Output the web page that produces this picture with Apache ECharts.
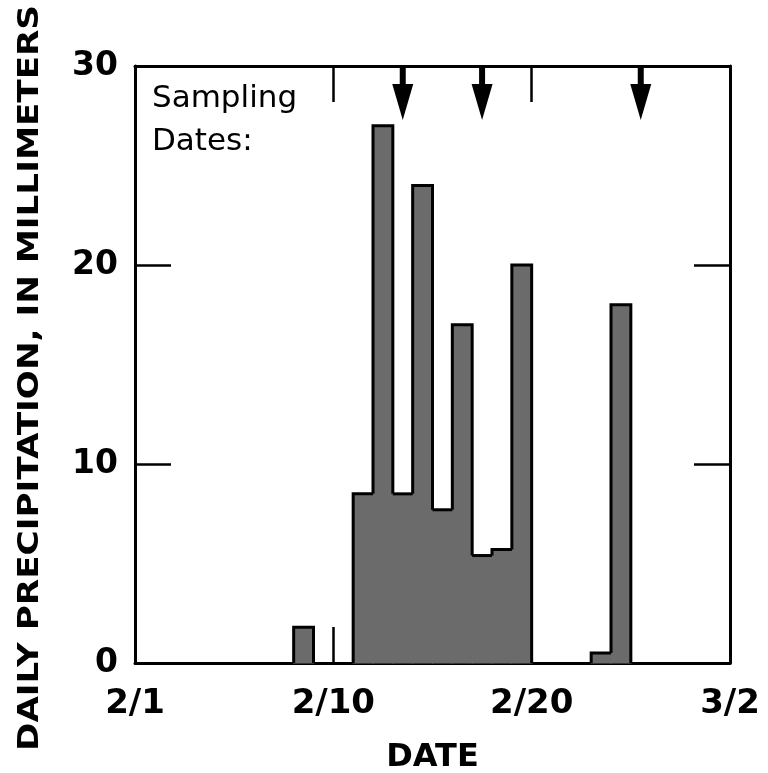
<!DOCTYPE html>
<html>
<head>
<meta charset="utf-8">
<script src="https://cdn.jsdelivr.net/npm/echarts@6/dist/echarts.min.js"></script>
<style>html,body{margin:0;padding:0;background:#fff}#c{width:768px;height:773px}</style>
</head>
<body>
<div id="c"></div>
<script>
// Day offsets (from 2/1) at which each daily bar starts
const barDays = [8, 11, 12, 13, 14, 15, 16, 17, 18, 19, 23, 24];
// Daily precipitation, in millimeters
const precip = [1.8, 8.5, 27, 8.5, 24, 7.7, 17, 5.4, 5.7, 20, 0.5, 18];
// Sampling dates (day offsets from 2/1), shown as arrows
const samplingDays = [13.5, 17.5, 25.5];
// X tick labels at day offsets 0, 10, 20, 30
const xTickLabels = ['2/1', '2/10', '2/20', '3/2'];
const yTicks = [0, 10, 20, 30];

const FONT = '"DejaVu Sans", "Liberation Sans", Arial, sans-serif';
const chart = echarts.init(document.getElementById('c'), null, {renderer: 'canvas'});

function valAt(d) {
  const i = barDays.indexOf(d);
  return i >= 0 ? precip[i] : 0;
}

const axisCommon = {
  type: 'value', min: 0, max: 30, interval: 10,
  axisLine: {show: true, onZero: false, lineStyle: {color: '#000', width: 3}},
  axisTick: {show: true, inside: true, length: 36, lineStyle: {color: '#000', width: 2.5}},
  splitLine: {show: false}
};

chart.setOption({
  animation: false,
  backgroundColor: '#fff',
  grid: {left: 135, right: 38, top: 66, bottom: 110, containLabel: false, outerBoundsMode: 'none'},
  xAxis: [
    Object.assign({}, axisCommon, {
      position: 'bottom',
      axisLabel: {show: true, margin: 24, color: '#000', fontSize: 34, fontWeight: 'bold', fontFamily: FONT,
        formatter: v => xTickLabels[Math.round(v / 10)]},
      name: 'DATE', nameLocation: 'middle', nameGap: 79,
      nameTextStyle: {color: '#000', fontSize: 32, fontWeight: 'bold', fontFamily: FONT}
    }),
    Object.assign({}, axisCommon, {position: 'top', axisLabel: {show: false}})
  ],
  yAxis: [
    Object.assign({}, axisCommon, {
      position: 'left',
      axisLabel: {show: true, margin: 17, color: '#000', fontSize: 33, fontWeight: 'bold', fontFamily: FONT,
        formatter: v => String(v)}
    }),
    Object.assign({}, axisCommon, {position: 'right', axisLabel: {show: false}})
  ],
  graphic: [
    {type: 'text', x: 30, y: 378, rotation: Math.PI / 2, scaleX: 1.18,
      style: {text: 'DAILY PRECIPITATION, IN MILLIMETERS', align: 'center', verticalAlign: 'middle',
        font: 'bold 29px ' + FONT, fill: '#000'}},
    {type: 'text', left: 152, top: 77,
      style: {text: 'Sampling\nDates:', font: '31px ' + FONT, lineHeight: 43, fill: '#000'}}
  ],
  series: [
    {
      type: 'custom', xAxisIndex: 0, yAxisIndex: 0, z: 3,
      data: barDays.map((d, i) => [d, precip[i]]),
      renderItem: function (params, api) {
        const d = api.value(0), v = api.value(1);
        const tl = api.coord([d, v]);
        const br = api.coord([d + 1, 0]);
        const lv = valAt(d - 1), rv = valAt(d + 1);
        const yl = api.coord([d, Math.min(lv, v)])[1];
        const yr = api.coord([d + 1, Math.min(rv, v)])[1];
        const children = [{
          type: 'rect',
          shape: {x: tl[0], y: tl[1], width: br[0] - tl[0], height: br[1] - tl[1]},
          style: {fill: '#6b6b6b', stroke: '#6b6b6b', lineWidth: 1.2}
        }, {
          type: 'polyline', z2: 5,
          shape: {points: [[tl[0], yl], [tl[0], tl[1]], [br[0], tl[1]], [br[0], yr]]},
          style: {stroke: '#000', lineWidth: 3, fill: null, lineJoin: 'miter'}
        }];
        return {type: 'group', children: children};
      }
    },
    {
      type: 'custom', xAxisIndex: 0, yAxisIndex: 0, z: 4,
      data: samplingDays.map(d => [d, 30]),
      renderItem: function (params, api) {
        const p = api.coord([api.value(0), api.value(1)]);
        return {type: 'group', children: [
          {type: 'rect', shape: {x: p[0] - 3, y: p[1], width: 6, height: 22}, style: {fill: '#000'}},
          {type: 'polygon', shape: {points: [[p[0] - 10.5, p[1] + 18], [p[0] + 10.5, p[1] + 18], [p[0], p[1] + 54]]},
            style: {fill: '#000'}}
        ]};
      }
    }
  ]
});
</script>
</body>
</html>
